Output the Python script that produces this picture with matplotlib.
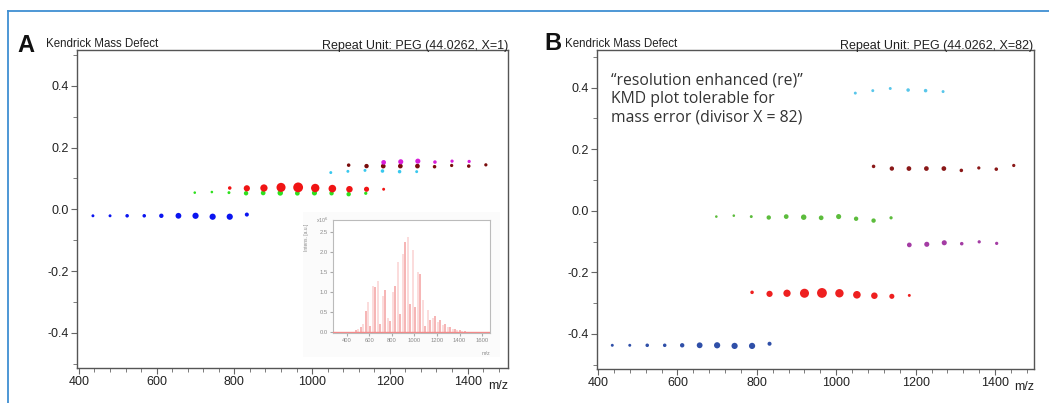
import matplotlib
matplotlib.use("Agg")
import matplotlib.pyplot as plt
from matplotlib.lines import Line2D
from matplotlib.patches import Rectangle
from matplotlib.ticker import MultipleLocator

plt.rcParams['font.family'] = ['Liberation Sans', 'DejaVu Sans']

# m/z of each ion series (PEG ladders, shared by both panels)
mz_blue = [436, 480, 524, 568, 612, 656, 700, 744, 788, 832]
mz_green = [698, 742, 786, 830, 874, 918, 962, 1006, 1050, 1094, 1138]
mz_red = [788, 832, 876, 920, 964, 1008, 1052, 1096, 1140, 1184]
mz_cyan = [1048, 1092, 1136, 1181, 1225, 1269]
mz_maroon = [1094, 1140, 1183, 1227, 1271, 1315, 1359, 1403, 1447]
mz_magenta = [1184, 1228, 1272, 1316, 1360, 1404]

# relative intensity (%) -> marker area
int_blue = [9, 9, 13, 13, 20, 35, 40, 40, 40, 17]
int_green = [7, 7, 9, 20, 23, 31, 23, 27, 20, 20, 11]
int_red = [13, 40, 55, 85, 100, 73, 60, 44, 27, 9]
int_cyan = [9, 9, 9, 13, 13, 9]
int_maroon = [13, 20, 23, 23, 23, 13, 11, 13, 11]
int_magenta = [23, 27, 27, 13, 11, 11]

# Kendrick mass defect, X = 1
kmd1_blue = [-0.021, -0.021, -0.021, -0.021, -0.021, -0.021, -0.021, -0.024, -0.024, -0.017]
kmd1_green = [0.054, 0.056, 0.054, 0.052, 0.053, 0.053, 0.052, 0.053, 0.052, 0.049, 0.052]
kmd1_red = [0.069, 0.068, 0.069, 0.071, 0.071, 0.069, 0.067, 0.065, 0.065, 0.065]
kmd1_cyan = [0.119, 0.123, 0.126, 0.124, 0.122, 0.122]
kmd1_maroon = [0.143, 0.140, 0.140, 0.140, 0.140, 0.138, 0.142, 0.140, 0.144]
kmd1_magenta = [0.152, 0.154, 0.156, 0.153, 0.156, 0.155]

# Kendrick mass defect, X = 82
kmd82_blue = [-0.437, -0.437, -0.437, -0.437, -0.437, -0.437, -0.437, -0.439, -0.439, -0.432]
kmd82_green = [-0.019, -0.016, -0.019, -0.022, -0.019, -0.021, -0.023, -0.019, -0.026, -0.032, -0.023]
kmd82_red = [-0.265, -0.270, -0.268, -0.268, -0.267, -0.268, -0.273, -0.276, -0.278, -0.275]
kmd82_cyan = [0.382, 0.390, 0.397, 0.392, 0.390, 0.387]
kmd82_maroon = [0.144, 0.137, 0.137, 0.137, 0.137, 0.131, 0.139, 0.135, 0.147]
kmd82_magenta = [-0.111, -0.109, -0.104, -0.107, -0.101, -0.106]

# inset mass spectrum (intensity x10^6)
spec_dark_mz = [480, 524, 568, 612, 656, 700, 744, 788, 832, 876, 920, 964, 1008, 1052,
                1096, 1140, 1184, 1228, 1272, 1316, 1360, 1404, 1448]
spec_dark_int = [0.05, 0.12, 0.52, 0.15, 1.12, 0.2, 1.05, 0.28, 1.15, 0.45, 2.25, 0.7,
                 0.62, 1.45, 0.15, 0.3, 0.4, 0.3, 0.2, 0.12, 0.07, 0.05, 0.03]
spec_light_mz = [502, 546, 590, 634, 678, 722, 766, 810, 854, 898, 942, 986, 1030, 1074,
                 1118, 1162, 1206, 1250, 1294, 1338, 1382, 1426]
spec_light_int = [0.08, 0.2, 0.75, 1.15, 1.28, 0.9, 0.35, 1.0, 1.75, 1.95, 2.38, 2.05,
                  1.5, 0.8, 0.55, 0.35, 0.25, 0.18, 0.12, 0.08, 0.05, 0.03]

A_cols = {'blue': '#0a14f0', 'green': '#2ee01e', 'red': '#f01414', 'cyan': '#38c8ee',
          'maroon': '#7a0c0c', 'magenta': '#d81ed8'}
B_cols = {'blue': '#2f4fa8', 'green': '#5cbc3c', 'red': '#ee2020', 'cyan': '#58c6ea',
          'maroon': '#8a1818', 'magenta': '#a43ca4'}

SIZE = 0.5

fig = plt.figure(figsize=(10.49, 4.03), dpi=100)

# blue frame lines
fig.add_artist(Line2D([8 / 1049, 1.0], [1 - 11 / 403] * 2, color='#3f8fd2', lw=1.3))
fig.add_artist(Line2D([8 / 1049] * 2, [0.0, 1 - 11 / 403], color='#3f8fd2', lw=1.3))


def style_axes(ax, xlim, ylim):
    ax.set_xlim(*xlim)
    ax.set_ylim(*ylim)
    ax.xaxis.set_major_locator(MultipleLocator(200))
    ax.xaxis.set_minor_locator(MultipleLocator(40))
    ax.yaxis.set_major_locator(MultipleLocator(0.2))
    ax.yaxis.set_minor_locator(MultipleLocator(0.1))
    ax.yaxis.set_major_formatter(lambda v, p: f'{v:.1f}' if abs(v) > 1e-9 else '0.0')
    ax.tick_params(which='both', direction='out', color='#666666', labelsize=9,
                   labelcolor='#222222', pad=2)
    ax.tick_params(which='major', length=4)
    ax.tick_params(which='minor', length=3)
    for s in ax.spines.values():
        s.set_color('#555555')
        s.set_linewidth(1.0)
    ax.text(1.0, -0.037, 'm/z', transform=ax.transAxes, ha='right', va='top',
            fontsize=9, color='#222222')


def draw_series(ax, cols, kmd):
    series = [
        (mz_blue, kmd[0], int_blue, 'blue'),
        (mz_green, kmd[1], int_green, 'green'),
        (mz_red, kmd[2], int_red, 'red'),
        (mz_cyan, kmd[3], int_cyan, 'cyan'),
        (mz_maroon, kmd[4], int_maroon, 'maroon'),
        (mz_magenta, kmd[5], int_magenta, 'magenta'),
    ]
    for mz, y, inten, key in series:
        ax.scatter(mz, y, s=[i * SIZE for i in inten], color=cols[key],
                   edgecolors='none', zorder=3)


# ---- panel A
axA = fig.add_axes([77 / 1049, 1 - 368 / 403, 431 / 1049, 318 / 403])
style_axes(axA, (395, 1504), (-0.514, 0.516))
draw_series(axA, A_cols, [kmd1_blue, kmd1_green, kmd1_red, kmd1_cyan, kmd1_maroon, kmd1_magenta])

fig.text(17 / 1049, 1 - 52 / 403, 'A', fontsize=17, fontweight='bold', color='#111111')
fig.text(46 / 1049, 1 - 47 / 403, 'Kendrick Mass Defect', fontsize=8.3, color='#222222')
fig.text(508 / 1049, 1 - 49 / 403, 'Repeat Unit: PEG (44.0262, X=1)', fontsize=9,
         color='#222222', ha='right')

# faint backdrop of the pasted spectrum
axA.add_patch(Rectangle((303 / 1049, 1 - 357 / 403), 197 / 1049, 145 / 403,
                        transform=fig.transFigure, facecolor='#fbfbfb',
                        edgecolor='none', zorder=1))

# inset spectrum
axI = fig.add_axes([333 / 1049, 1 - 333 / 403, 157 / 1049, 113 / 403])
axI.vlines(spec_light_mz, 0, spec_light_int, color='#fbd2d2', lw=1.1, zorder=2)
axI.vlines(spec_dark_mz, 0, spec_dark_int, color='#f4a0a0', lw=1.1, zorder=3)
axI.axhline(0, color='#f28a8a', lw=1, zorder=4)
axI.set_xlim(280, 1670)
axI.set_ylim(-0.03, 2.8)
axI.set_xticks([400, 600, 800, 1000, 1200, 1400, 1600])
axI.set_yticks([0.0, 0.5, 1.0, 1.5, 2.0, 2.5])
axI.yaxis.set_major_formatter(lambda v, p: f'{v:.1f}')
axI.tick_params(labelsize=4.2, labelcolor='#8a8a8a', color='#aaaaaa', length=2, pad=1.5)
for s in axI.spines.values():
    s.set_color('#bbbbbb')
    s.set_linewidth(0.8)
axI.text(1.0, -0.16, 'm/z', transform=axI.transAxes, ha='right', va='top',
         fontsize=3.8, color='#8a8a8a')
axI.text(-0.03, 1.0, 'x10$^6$', transform=axI.transAxes, ha='right', va='center',
         fontsize=3.8, color='#8a8a8a')
axI.text(-0.17, 0.85, 'Intens. [a.u.]', transform=axI.transAxes, ha='center', va='center',
         rotation=90, fontsize=3.5, color='#8a8a8a')

# ---- panel B
axB = fig.add_axes([597 / 1049, 1 - 369 / 403, 437 / 1049, 319 / 403])
style_axes(axB, (397.5, 1498), (-0.514, 0.522))
draw_series(axB, B_cols, [kmd82_blue, kmd82_green, kmd82_red, kmd82_cyan, kmd82_maroon,
                          kmd82_magenta])

fig.text(544 / 1049, 1 - 50 / 403, 'B', fontsize=17, fontweight='bold', color='#111111')
fig.text(565 / 1049, 1 - 47 / 403, 'Kendrick Mass Defect', fontsize=8.3, color='#222222')
fig.text(1033 / 1049, 1 - 49 / 403, 'Repeat Unit: PEG (44.0262, X=82)', fontsize=9,
         color='#222222', ha='right')

axB.text(0.033, 0.93, '\u201cresolution enhanced (re)\u201d\nKMD plot tolerable for\n'
         'mass error (divisor X = 82)', transform=axB.transAxes, ha='left', va='top',
         fontsize=11.3, color='#333333', linespacing=1.2,
         family=['Open Sans', 'DejaVu Sans'])

fig.savefig('out.png', dpi=100)
